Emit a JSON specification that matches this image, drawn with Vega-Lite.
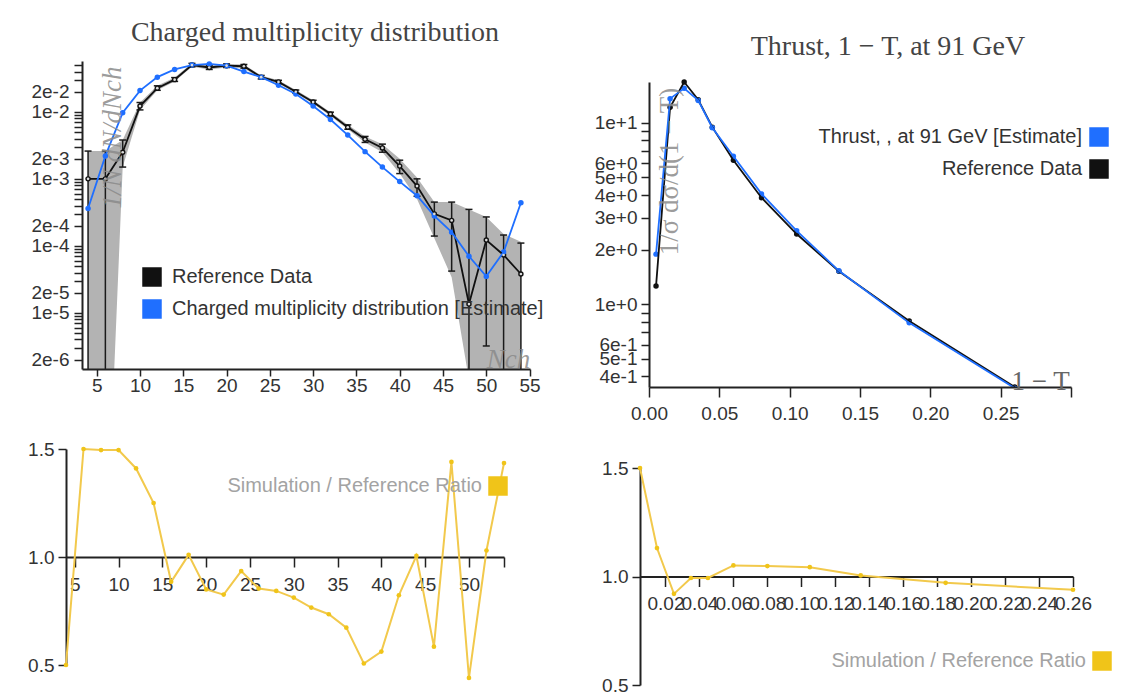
{
  "$schema": "https://vega.github.io/schema/vega-lite/v6.json",
  "padding": {"left": 20, "top": 19, "right": 0, "bottom": 0},
  "config": {
    "view": {"stroke": null},
    "font": "Liberation Sans",
    "axis": {"grid": false, "labelFont": "Liberation Sans", "labelFontSize": 19, "labelColor": "#333", "domainColor": "#222", "domainWidth": 2, "tickColor": "#222", "tickWidth": 1.5, "tickSize": 8, "titleFont": "Liberation Serif", "titleFontWeight": "normal", "titleColor": "#8a8a8a", "titleFontSize": 27, "labelOverlap": false, "labelFlush": false},
    "legend": {"labelFont": "Liberation Sans", "labelFontSize": 20, "labelColor": "#333", "labelLimit": 800, "symbolType": "square", "symbolSize": 380, "symbolStrokeWidth": 0, "padding": 0, "rowPadding": 12},
    "title": {"font": "Liberation Serif", "fontSize": 28, "fontWeight": "normal", "color": "#444", "anchor": "middle"}
  },
  "datasets": {
    "multLines": [
      {"N": 4, "series": "Reference Data", "value": 0.001},
      {"N": 6, "series": "Reference Data", "value": 0.001},
      {"N": 8, "series": "Reference Data", "value": 0.0025},
      {"N": 10, "series": "Reference Data", "value": 0.0122},
      {"N": 12, "series": "Reference Data", "value": 0.0226},
      {"N": 14, "series": "Reference Data", "value": 0.0303},
      {"N": 16, "series": "Reference Data", "value": 0.05},
      {"N": 18, "series": "Reference Data", "value": 0.046},
      {"N": 20, "series": "Reference Data", "value": 0.049},
      {"N": 22, "series": "Reference Data", "value": 0.048},
      {"N": 24, "series": "Reference Data", "value": 0.033},
      {"N": 26, "series": "Reference Data", "value": 0.028},
      {"N": 28, "series": "Reference Data", "value": 0.02},
      {"N": 30, "series": "Reference Data", "value": 0.014},
      {"N": 32, "series": "Reference Data", "value": 0.0093},
      {"N": 34, "series": "Reference Data", "value": 0.0059},
      {"N": 36, "series": "Reference Data", "value": 0.0039},
      {"N": 38, "series": "Reference Data", "value": 0.0029},
      {"N": 40, "series": "Reference Data", "value": 0.00155},
      {"N": 42, "series": "Reference Data", "value": 0.00078},
      {"N": 44, "series": "Reference Data", "value": 0.0003},
      {"N": 46, "series": "Reference Data", "value": 0.00024},
      {"N": 48, "series": "Reference Data", "value": 0.0000135},
      {"N": 50, "series": "Reference Data", "value": 0.000122},
      {"N": 52, "series": "Reference Data", "value": 0.000073},
      {"N": 54, "series": "Reference Data", "value": 0.000038},
      {"N": 4, "series": "Charged multiplicity distribution [Estimate]", "value": 0.00036},
      {"N": 6, "series": "Charged multiplicity distribution [Estimate]", "value": 0.0022},
      {"N": 8, "series": "Charged multiplicity distribution [Estimate]", "value": 0.0097},
      {"N": 10, "series": "Charged multiplicity distribution [Estimate]", "value": 0.0208},
      {"N": 12, "series": "Charged multiplicity distribution [Estimate]", "value": 0.033},
      {"N": 14, "series": "Charged multiplicity distribution [Estimate]", "value": 0.043},
      {"N": 16, "series": "Charged multiplicity distribution [Estimate]", "value": 0.05},
      {"N": 18, "series": "Charged multiplicity distribution [Estimate]", "value": 0.052},
      {"N": 20, "series": "Charged multiplicity distribution [Estimate]", "value": 0.049},
      {"N": 22, "series": "Charged multiplicity distribution [Estimate]", "value": 0.04},
      {"N": 24, "series": "Charged multiplicity distribution [Estimate]", "value": 0.033},
      {"N": 26, "series": "Charged multiplicity distribution [Estimate]", "value": 0.025},
      {"N": 28, "series": "Charged multiplicity distribution [Estimate]", "value": 0.0185},
      {"N": 30, "series": "Charged multiplicity distribution [Estimate]", "value": 0.0122},
      {"N": 32, "series": "Charged multiplicity distribution [Estimate]", "value": 0.0077},
      {"N": 34, "series": "Charged multiplicity distribution [Estimate]", "value": 0.0045},
      {"N": 36, "series": "Charged multiplicity distribution [Estimate]", "value": 0.00255},
      {"N": 38, "series": "Charged multiplicity distribution [Estimate]", "value": 0.0015},
      {"N": 40, "series": "Charged multiplicity distribution [Estimate]", "value": 0.00091},
      {"N": 42, "series": "Charged multiplicity distribution [Estimate]", "value": 0.00056},
      {"N": 44, "series": "Charged multiplicity distribution [Estimate]", "value": 0.00028},
      {"N": 46, "series": "Charged multiplicity distribution [Estimate]", "value": 0.00016},
      {"N": 48, "series": "Charged multiplicity distribution [Estimate]", "value": 0.00007},
      {"N": 50, "series": "Charged multiplicity distribution [Estimate]", "value": 0.000035},
      {"N": 52, "series": "Charged multiplicity distribution [Estimate]", "value": 0.000081},
      {"N": 54, "series": "Charged multiplicity distribution [Estimate]", "value": 0.00044}
    ],
    "multErr": [
      {"N": 4, "hi": 0.0026, "lo": 1e-9, "bandHi": 0.0026, "bandLo": 1e-9},
      {"N": 6, "hi": 0.0026, "lo": 1e-9, "bandHi": 0.0026, "bandLo": 1e-9},
      {"N": 8, "hi": 0.0038, "lo": 0.0015, "bandHi": 0.0038, "bandLo": 0.0015},
      {"N": 10, "hi": 0.0138, "lo": 0.0107, "bandHi": 0.0138, "bandLo": 0.0107},
      {"N": 12, "hi": 0.0245, "lo": 0.021, "bandHi": 0.0245, "bandLo": 0.021},
      {"N": 14, "hi": 0.0325, "lo": 0.0285, "bandHi": 0.0325, "bandLo": 0.0285},
      {"N": 16, "hi": 0.053, "lo": 0.047, "bandHi": 0.053, "bandLo": 0.047},
      {"N": 18, "hi": 0.049, "lo": 0.043, "bandHi": 0.049, "bandLo": 0.043},
      {"N": 20, "hi": 0.052, "lo": 0.046, "bandHi": 0.052, "bandLo": 0.046},
      {"N": 22, "hi": 0.051, "lo": 0.045, "bandHi": 0.051, "bandLo": 0.045},
      {"N": 24, "hi": 0.035, "lo": 0.031, "bandHi": 0.035, "bandLo": 0.031},
      {"N": 26, "hi": 0.0296, "lo": 0.0265, "bandHi": 0.0296, "bandLo": 0.0265},
      {"N": 28, "hi": 0.0212, "lo": 0.0189, "bandHi": 0.0212, "bandLo": 0.0189},
      {"N": 30, "hi": 0.0149, "lo": 0.0132, "bandHi": 0.0149, "bandLo": 0.0132},
      {"N": 32, "hi": 0.0099, "lo": 0.0087, "bandHi": 0.0099, "bandLo": 0.0087},
      {"N": 34, "hi": 0.0064, "lo": 0.0055, "bandHi": 0.0064, "bandLo": 0.0055},
      {"N": 36, "hi": 0.0043, "lo": 0.0035, "bandHi": 0.0043, "bandLo": 0.0035},
      {"N": 38, "hi": 0.0033, "lo": 0.0025, "bandHi": 0.0033, "bandLo": 0.0025},
      {"N": 40, "hi": 0.0019, "lo": 0.0012, "bandHi": 0.002, "bandLo": 0.0012},
      {"N": 42, "hi": 0.001, "lo": 0.00055, "bandHi": 0.00105, "bandLo": 0.0005},
      {"N": 44, "hi": 0.00045, "lo": 0.00014, "bandHi": 0.00045, "bandLo": 0.00013},
      {"N": 46, "hi": 0.00045, "lo": 0.000042, "bandHi": 0.00045, "bandLo": 0.000034},
      {"N": 48, "hi": 0.00035, "lo": 1e-9, "bandHi": 0.00035, "bandLo": 0.000001},
      {"N": 50, "hi": 0.00027, "lo": 0.0000032, "bandHi": 0.00027, "bandLo": 1e-9},
      {"N": 52, "hi": 0.000145, "lo": 1e-9, "bandHi": 0.00015, "bandLo": 1e-9},
      {"N": 54, "hi": 0.00011, "lo": 1e-9, "bandHi": 0.000115, "bandLo": 1e-9}
    ],
    "multRatio": [
      {"N": 4, "ratio": 0.5}, {"N": 6, "ratio": 1.5}, {"N": 8, "ratio": 1.495}, {"N": 10, "ratio": 1.495},
      {"N": 12, "ratio": 1.41}, {"N": 14, "ratio": 1.25}, {"N": 16, "ratio": 0.885}, {"N": 18, "ratio": 1.01},
      {"N": 20, "ratio": 0.85}, {"N": 22, "ratio": 0.826}, {"N": 24, "ratio": 0.935}, {"N": 26, "ratio": 0.854},
      {"N": 28, "ratio": 0.843}, {"N": 30, "ratio": 0.812}, {"N": 32, "ratio": 0.766}, {"N": 34, "ratio": 0.735},
      {"N": 36, "ratio": 0.673}, {"N": 38, "ratio": 0.507}, {"N": 40, "ratio": 0.562}, {"N": 42, "ratio": 0.823},
      {"N": 44, "ratio": 1.005}, {"N": 46, "ratio": 0.585}, {"N": 48, "ratio": 1.44}, {"N": 50, "ratio": 0.44},
      {"N": 52, "ratio": 1.03}, {"N": 54, "ratio": 1.435}
    ],
    "thrust": [
      {"t": 0.005, "series": "Reference Data", "value": 1.26},
      {"t": 0.015, "series": "Reference Data", "value": 12.2},
      {"t": 0.025, "series": "Reference Data", "value": 16.8},
      {"t": 0.035, "series": "Reference Data", "value": 13.4},
      {"t": 0.045, "series": "Reference Data", "value": 9.47},
      {"t": 0.06, "series": "Reference Data", "value": 6.22},
      {"t": 0.08, "series": "Reference Data", "value": 3.87},
      {"t": 0.105, "series": "Reference Data", "value": 2.44},
      {"t": 0.135, "series": "Reference Data", "value": 1.52},
      {"t": 0.185, "series": "Reference Data", "value": 0.81},
      {"t": 0.26, "series": "Reference Data", "value": 0.35},
      {"t": 0.005, "series": "Thrust, , at 91 GeV [Estimate]", "value": 1.89},
      {"t": 0.015, "series": "Thrust, , at 91 GeV [Estimate]", "value": 13.6},
      {"t": 0.025, "series": "Thrust, , at 91 GeV [Estimate]", "value": 15.5},
      {"t": 0.035, "series": "Thrust, , at 91 GeV [Estimate]", "value": 13.3},
      {"t": 0.045, "series": "Thrust, , at 91 GeV [Estimate]", "value": 9.4},
      {"t": 0.06, "series": "Thrust, , at 91 GeV [Estimate]", "value": 6.55},
      {"t": 0.08, "series": "Thrust, , at 91 GeV [Estimate]", "value": 4.06},
      {"t": 0.105, "series": "Thrust, , at 91 GeV [Estimate]", "value": 2.54},
      {"t": 0.135, "series": "Thrust, , at 91 GeV [Estimate]", "value": 1.53},
      {"t": 0.185, "series": "Thrust, , at 91 GeV [Estimate]", "value": 0.79},
      {"t": 0.26, "series": "Thrust, , at 91 GeV [Estimate]", "value": 0.345}
    ],
    "thrustRatio": [
      {"t": 0.005, "ratio": 1.5}, {"t": 0.015, "ratio": 1.131}, {"t": 0.025, "ratio": 0.92},
      {"t": 0.035, "ratio": 0.993}, {"t": 0.045, "ratio": 0.993}, {"t": 0.06, "ratio": 1.051},
      {"t": 0.08, "ratio": 1.048}, {"t": 0.105, "ratio": 1.043}, {"t": 0.135, "ratio": 1.005},
      {"t": 0.185, "ratio": 0.971}, {"t": 0.26, "ratio": 0.939}
    ]
  },
  "columns": 2,
  "align": "none",
  "spacing": {"row": 17, "column": 45},
  "resolve": {"scale": {"color": "independent"}},
  "concat": [
    {
      "width": 464,
      "height": 308,
      "title": {"text": "Charged multiplicity distribution", "offset": 9, "dx": 17},
      "layer": [
        {
          "data": {"name": "multErr"},
          "mark": {"type": "area", "color": "#b3b3b3", "opacity": 1, "clip": true},
          "encoding": {
            "x": {"field": "N", "type": "quantitative", "scale": {"domain": [3.3, 55.05], "range": [16, 464], "nice": false, "zero": false},
                  "axis": {"values": [5, 10, 15, 20, 25, 30, 35, 40, 45, 50, 55], "format": "d", "tickSize": 7, "labelPadding": 0, "minExtent": 36, "zindex": 1, "labelOverlap": false, "tickCount": 30,
                           "title": "Nch", "titleX": 442, "titleY": -2, "titleAlign": "center", "titleBaseline": "alphabetic", "titleFontStyle": "italic", "titleOpacity": 0.85}},
            "y": {"field": "bandHi", "type": "quantitative", "scale": {"type": "log", "domain": [0.00000145, 0.0575], "nice": false},
                  "axis": {"values": [2e-6, 3e-6, 4e-6, 5e-6, 6e-6, 7e-6, 8e-6, 9e-6, 1e-5, 2e-5, 3e-5, 4e-5, 5e-5, 6e-5, 7e-5, 8e-5, 9e-5, 1e-4, 2e-4, 3e-4, 4e-4, 5e-4, 6e-4, 7e-4, 8e-4, 9e-4, 0.001, 0.002, 0.003, 0.004, 0.005, 0.006, 0.007, 0.008, 0.009, 0.01, 0.02, 0.03, 0.04, 0.05],
                           "labelExpr": "datum.value / pow(10, floor(log(datum.value) / LN10 + 1e-6)) < 2.5 ? format(datum.value, '.0e') : ''",
                           "offset": -16, "minExtent": 62, "labelPadding": 5, "zindex": 1, "labelOverlap": false, "tickCount": 100,
                           "title": "1/N dN/dNch", "titleAngle": 270, "titleX": 30, "titleY": 76, "titleAlign": "center", "titleBaseline": "middle", "titleFontStyle": "italic", "titleOpacity": 0.85}},
            "y2": {"field": "bandLo"}
          }
        },
        {
          "data": {"name": "multErr"},
          "mark": {"type": "rule", "color": "#1a1a1a", "strokeWidth": 1.5, "clip": true},
          "encoding": {
            "x": {"field": "N", "type": "quantitative", "scale": {"domain": [3.3, 55.05], "range": [16, 464], "nice": false, "zero": false}},
            "y": {"field": "hi", "type": "quantitative", "scale": {"type": "log", "domain": [0.00000145, 0.0575], "nice": false}},
            "y2": {"field": "lo"}
          }
        },
        {
          "data": {"name": "multErr"},
          "mark": {"type": "tick", "orient": "horizontal", "size": 7, "thickness": 1.5, "color": "#1a1a1a", "opacity": 1, "clip": true},
          "encoding": {
            "x": {"field": "N", "type": "quantitative", "scale": {"domain": [3.3, 55.05], "range": [16, 464], "nice": false, "zero": false}},
            "y": {"field": "hi", "type": "quantitative", "scale": {"type": "log", "domain": [0.00000145, 0.0575], "nice": false}}
          }
        },
        {
          "data": {"name": "multErr"},
          "mark": {"type": "tick", "orient": "horizontal", "size": 7, "thickness": 1.5, "color": "#1a1a1a", "opacity": 1, "clip": true},
          "encoding": {
            "x": {"field": "N", "type": "quantitative", "scale": {"domain": [3.3, 55.05], "range": [16, 464], "nice": false, "zero": false}},
            "y": {"field": "lo", "type": "quantitative", "scale": {"type": "log", "domain": [0.00000145, 0.0575], "nice": false}}
          }
        },
        {
          "data": {"name": "multLines"},
          "mark": {"type": "point", "filled": true, "size": 30, "opacity": 1, "clip": true},
          "encoding": {
            "x": {"field": "N", "type": "quantitative", "scale": {"domain": [3.3, 55.05], "range": [16, 464], "nice": false, "zero": false}},
            "y": {"field": "value", "type": "quantitative", "scale": {"type": "log", "domain": [0.00000145, 0.0575], "nice": false}},
            "color": {"field": "series", "type": "nominal", "scale": {"domain": ["Reference Data", "Charged multiplicity distribution [Estimate]"], "range": ["#111111", "#1f6fff"]},
                      "legend": {"title": null, "orient": "none", "legendX": 76, "legendY": 206, "labelOffset": 10, "symbolType": "square"}}
          }
        },
        {
          "data": {"name": "multLines"},
          "mark": {"type": "line", "strokeWidth": 1.8, "clip": true},
          "encoding": {
            "x": {"field": "N", "type": "quantitative", "scale": {"domain": [3.3, 55.05], "range": [16, 464], "nice": false, "zero": false}},
            "y": {"field": "value", "type": "quantitative", "scale": {"type": "log", "domain": [0.00000145, 0.0575], "nice": false}},
            "color": {"field": "series", "type": "nominal", "scale": {"domain": ["Reference Data", "Charged multiplicity distribution [Estimate]"], "range": ["#111111", "#1f6fff"]}}
          }
        },
        {
          "data": {"name": "multLines"},
          "transform": [{"filter": "datum.series == 'Reference Data'"}],
          "mark": {"type": "point", "filled": true, "size": 7, "opacity": 1, "color": "#dddddd", "clip": true},
          "encoding": {
            "x": {"field": "N", "type": "quantitative", "scale": {"domain": [3.3, 55.05], "range": [16, 464], "nice": false, "zero": false}},
            "y": {"field": "value", "type": "quantitative", "scale": {"type": "log", "domain": [0.00000145, 0.0575], "nice": false}}
          }
        }
      ]
    },
    {
      "width": 422,
      "height": 326,
      "title": {"text": "Thrust, 1 − T, at 91 GeV", "offset": 0, "dx": 28},
      "data": {"name": "thrust"},
      "layer": [
        {
          "mark": {"type": "point", "filled": true, "size": 30, "opacity": 1, "clip": true},
          "encoding": {
            "x": {"field": "t", "type": "quantitative", "scale": {"domain": [0, 0.3], "nice": false, "zero": false},
                  "axis": {"values": [0, 0.05, 0.1, 0.15, 0.2, 0.25, 0.3], "labelExpr": "datum.value > 0.29 ? '' : format(datum.value, '.2f')", "tickSize": 10, "labelPadding": 7, "zindex": 1, "labelOverlap": false, "tickCount": 30,
                           "title": "1 − T", "titleX": 391, "titleY": 2, "titleAlign": "center", "titleBaseline": "alphabetic", "titleFontSize": 27, "titleColor": "#666666"}},
            "y": {"field": "value", "type": "quantitative", "scale": {"type": "log", "domain": [0.35, 16.8], "range": [326, 21], "nice": false},
                  "axis": {"values": [0.4, 0.5, 0.6, 0.7, 0.8, 0.9, 1, 2, 3, 4, 5, 6, 7, 8, 9, 10],
                           "labelExpr": "datum.value / pow(10, floor(log(datum.value) / LN10 + 1e-6)) < 6.5 ? format(datum.value, '.0e') : ''",
                           "minExtent": 60, "tickSize": 8, "labelPadding": 4, "zindex": 1, "labelOverlap": false, "tickCount": 100,
                           "title": "1/σ dσ/d(1 − T)", "titleAngle": 270, "titleX": 20, "titleY": 110, "titleAlign": "center", "titleBaseline": "middle", "titleOpacity": 0.85}},
            "color": {"field": "series", "type": "nominal", "scale": {"domain": ["Thrust, , at 91 GeV [Estimate]", "Reference Data"], "range": ["#1f6fff", "#111111"]},
                      "legend": {"title": null, "orient": "none", "legendX": 440, "legendY": 66, "labelAlign": "right", "labelOffset": -27, "symbolType": "square"}}
          }
        },
        {
          "mark": {"type": "line", "strokeWidth": 1.8, "clip": true},
          "encoding": {
            "x": {"field": "t", "type": "quantitative", "scale": {"domain": [0, 0.3], "nice": false, "zero": false}},
            "y": {"field": "value", "type": "quantitative", "scale": {"type": "log", "domain": [0.35, 16.8], "range": [326, 21], "nice": false}},
            "color": {"field": "series", "type": "nominal", "scale": {"domain": ["Thrust, , at 91 GeV [Estimate]", "Reference Data"], "range": ["#1f6fff", "#111111"]}}
          }
        }
      ]
    },
    {
      "width": 438,
      "height": 216,
      "data": {"name": "multRatio"},
      "layer": [
        {
          "mark": {"type": "line", "color": "#f2c94c", "strokeWidth": 2},
          "encoding": {
            "x": {"field": "N", "type": "quantitative", "scale": {"domain": [4, 54], "nice": false, "zero": false},
                  "axis": {"values": [5, 10, 15, 20, 25, 30, 35, 40, 45, 50, 54], "labelExpr": "datum.value == 54 ? '' : format(datum.value, 'd')", "offset": -108, "tickSize": 10, "labelPadding": 8, "labelOverlap": false, "tickCount": 30, "title": null}},
            "y": {"field": "ratio", "type": "quantitative", "scale": {"domain": [0.5, 1.5], "nice": false, "zero": false},
                  "axis": {"values": [0.5, 1, 1.5], "format": ".1f", "minExtent": 46, "tickSize": 8, "labelPadding": 4, "labelOverlap": false, "title": null}}
          }
        },
        {
          "mark": {"type": "point", "filled": true, "size": 22, "opacity": 1},
          "encoding": {
            "x": {"field": "N", "type": "quantitative", "scale": {"domain": [4, 54], "nice": false, "zero": false}},
            "y": {"field": "ratio", "type": "quantitative", "scale": {"domain": [0.5, 1.5], "nice": false, "zero": false}},
            "color": {"datum": "Simulation / Reference Ratio", "scale": {"range": ["#f0c419"]},
                      "legend": {"title": null, "orient": "none", "legendX": 422, "legendY": 27, "labelAlign": "right", "labelOffset": -26, "labelColor": "#a3a3a3", "symbolType": "square"}}
          }
        }
      ]
    },
    {
      "width": 433,
      "height": 245,
      "data": {"name": "thrustRatio"},
      "layer": [
        {
          "mark": {"type": "line", "color": "#f2c94c", "strokeWidth": 2},
          "encoding": {
            "x": {"field": "t", "type": "quantitative", "scale": {"domain": [0.005, 0.26], "nice": false, "zero": false},
                  "axis": {"values": [0.02, 0.04, 0.06, 0.08, 0.1, 0.12, 0.14, 0.16, 0.18, 0.2, 0.22, 0.24, 0.26], "format": ".2f", "offset": -108.5, "tickSize": 10, "labelPadding": 8, "labelOverlap": false, "tickCount": 40, "title": null}},
            "y": {"field": "ratio", "type": "quantitative", "scale": {"domain": [0.5, 1.5], "range": [245, 28], "nice": false, "zero": false},
                  "axis": {"values": [0.5, 1, 1.5], "format": ".1f", "minExtent": 51, "tickSize": 8, "labelPadding": 4, "labelOverlap": false, "title": null}}
          }
        },
        {
          "mark": {"type": "point", "filled": true, "size": 22, "opacity": 1},
          "encoding": {
            "x": {"field": "t", "type": "quantitative", "scale": {"domain": [0.005, 0.26], "nice": false, "zero": false}},
            "y": {"field": "ratio", "type": "quantitative", "scale": {"domain": [0.5, 1.5], "range": [245, 28], "nice": false, "zero": false}},
            "color": {"datum": "Simulation / Reference Ratio", "scale": {"range": ["#f0c419"]},
                      "legend": {"title": null, "orient": "none", "legendX": 452, "legendY": 211, "labelAlign": "right", "labelOffset": -26, "labelColor": "#a3a3a3", "symbolType": "square"}}
          }
        }
      ]
    }
  ]
}
